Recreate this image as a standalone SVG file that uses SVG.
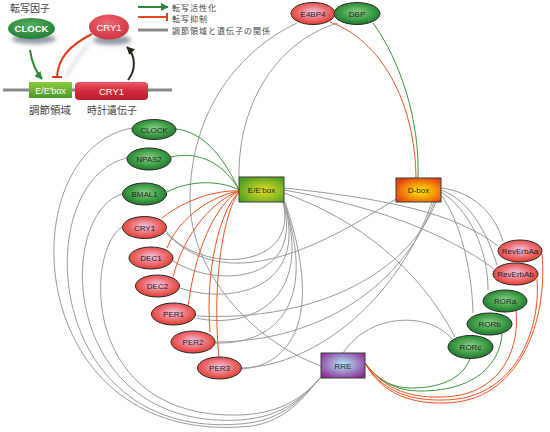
<svg xmlns="http://www.w3.org/2000/svg" width="550" height="432" viewBox="0 0 550 432">
<defs>
<radialGradient id="gGreen" cx="50%" cy="45%" r="60%">
<stop offset="0" stop-color="#8ed08a"/><stop offset="0.6" stop-color="#3a9a42"/><stop offset="1" stop-color="#1c6e2c"/>
</radialGradient>
<radialGradient id="gRed" cx="50%" cy="45%" r="60%">
<stop offset="0" stop-color="#f4c8e6"/><stop offset="0.55" stop-color="#ec6c70"/><stop offset="1" stop-color="#e0321e"/>
</radialGradient>
<radialGradient id="gE" cx="55%" cy="55%" r="65%">
<stop offset="0" stop-color="#e4e222"/><stop offset="1" stop-color="#4c9c22"/>
</radialGradient>
<radialGradient id="gD" cx="55%" cy="55%" r="65%">
<stop offset="0" stop-color="#fff000"/><stop offset="1" stop-color="#e63a12"/>
</radialGradient>
<radialGradient id="gR" cx="50%" cy="45%" r="65%">
<stop offset="0" stop-color="#b4ecf8"/><stop offset="1" stop-color="#8a2a92"/>
</radialGradient>
<radialGradient id="gLG" cx="45%" cy="35%" r="70%">
<stop offset="0" stop-color="#54b060"/><stop offset="1" stop-color="#1f7a32"/>
</radialGradient>
<radialGradient id="gLR" cx="45%" cy="35%" r="70%">
<stop offset="0" stop-color="#ee6a76"/><stop offset="1" stop-color="#cf2c3c"/>
</radialGradient>
<linearGradient id="gGene" x1="0" y1="0" x2="0" y2="1">
<stop offset="0" stop-color="#e85a66"/><stop offset="0.5" stop-color="#d42a3a"/><stop offset="1" stop-color="#b81e2e"/>
</linearGradient>
<linearGradient id="gBox" x1="0" y1="0" x2="0" y2="1">
<stop offset="0" stop-color="#8acc40"/><stop offset="1" stop-color="#4c9a24"/>
</linearGradient>
<filter id="blur" x="-30%" y="-60%" width="160%" height="220%"><feGaussianBlur stdDeviation="2"/></filter>
<marker id="ahG" viewBox="0 0 10 10" refX="9" refY="5" markerWidth="8" markerHeight="8" markerUnits="userSpaceOnUse" orient="auto"><path d="M0,0 L10,5 L0,10 z" fill="#2e8a36"/></marker>
<marker id="ahK" viewBox="0 0 10 10" refX="9" refY="5" markerWidth="8" markerHeight="8" markerUnits="userSpaceOnUse" orient="auto"><path d="M0,0 L10,5 L0,10 z" fill="#2a2418"/></marker>
</defs>
<style>
.act{fill:none;stroke:#3c963c;stroke-width:1}
.rep{fill:none;stroke:#f0521e;stroke-width:1}
.rel{fill:none;stroke:#9a9a9a;stroke-width:1}
.ng{fill:url(#gGreen);stroke:#2a2a2a;stroke-width:1}
.nr{fill:url(#gRed);stroke:#2a2a2a;stroke-width:1}
.lbl{font-family:"Liberation Sans",Arial,sans-serif;font-size:8px;fill:#222;text-anchor:middle}
.jp{font-family:"Noto Sans CJK JP","Noto Sans CJK SC",sans-serif;fill:#444}
.lg{font-size:8px;letter-spacing:1px}
.wt{font-family:"Liberation Sans",Arial,sans-serif;fill:#fff;text-anchor:middle}
</style>
<rect width="550" height="432" fill="#fff"/>

<g id="legend">
<text class="jp" x="10" y="12" font-size="10">転写因子</text>
<ellipse cx="34" cy="39" rx="22" ry="5" fill="#4a5566" opacity="0.6" filter="url(#blur)"/>
<ellipse cx="31.5" cy="28.5" rx="23.5" ry="10.5" fill="url(#gLG)"/>
<text class="wt" x="31.5" y="32" font-size="9.5" font-weight="bold">CLOCK</text>
<ellipse cx="112" cy="40" rx="19" ry="5" fill="#4a5566" opacity="0.6" filter="url(#blur)"/>
<ellipse cx="109" cy="27" rx="20" ry="12.5" fill="url(#gLR)"/>
<text class="wt" x="109" y="31" font-size="9.5">CRY1</text>
<path d="M66,78 C72,62 84,52 90,42" fill="none" stroke="#8aa0b8" stroke-width="2" opacity="0.5" filter="url(#blur)"/>
<line x1="3" y1="90" x2="172" y2="90" stroke="#888" stroke-width="3"/>
<rect x="29" y="82" width="43" height="16" fill="url(#gBox)"/>
<text class="wt" x="50.5" y="93.5" font-size="9">E/E'box</text>
<rect x="75" y="82" width="73" height="18" rx="4" fill="url(#gGene)"/>
<text class="wt" x="111.5" y="94.5" font-size="9.5">CRY1</text>
<path d="M30,50 C32,64 36,72 42,79" fill="none" stroke="#2e8a36" stroke-width="2" marker-end="url(#ahG)"/>
<path d="M92,34 C70,45 58,58 57,77" fill="none" stroke="#e03a1a" stroke-width="2"/>
<line x1="52" y1="77" x2="62" y2="77" stroke="#e03a1a" stroke-width="2"/>
<path d="M128,80 C136,70 136,56 127,47" fill="none" stroke="#2a2418" stroke-width="2" marker-end="url(#ahK)"/>
<text class="jp" x="50" y="114" font-size="10.5" text-anchor="middle">調節領域</text>
<text class="jp" x="112" y="114" font-size="10" text-anchor="middle">時計遺伝子</text>
<line x1="138" y1="7" x2="168" y2="7" stroke="#2e8a36" stroke-width="2" marker-end="url(#ahG)"/>
<line x1="138" y1="17" x2="167" y2="17" stroke="#e8421a" stroke-width="2"/>
<line x1="167" y1="13" x2="167" y2="21" stroke="#e8421a" stroke-width="2"/>
<line x1="138" y1="30" x2="168" y2="30" stroke="#888" stroke-width="3"/>
<text class="jp lg" x="172" y="11">転写活性化</text>
<text class="jp lg" x="172" y="21.5">転写抑制</text>
<text class="jp lg" x="172" y="34">調節領域と遺伝子の関係</text>
</g>

<g id="connectors">
<path class="rel" d="M297,23 C240,50 190,110 190,200 C190,270 250,340 321,366"/>
<path class="rel" d="M338,23 C280,40 238,100 239,177"/>
<path class="rel" d="M132,128 C10,150 20,440 240,427 C285,426 305,395 321,377"/>
<path class="rel" d="M127,158 C30,180 40,440 240,424 C285,421 305,395 321,377"/>
<path class="rel" d="M122,194 C55,215 60,430 240,420 C285,417 305,395 321,377"/>
<path class="rel" d="M122,227 C85,250 80,420 240,415 C285,413 305,395 321,377"/>
<path class="rel" d="M284,188 C380,198 455,212 498,246"/>
<path class="rel" d="M284,190 C370,205 445,232 494,269"/>
<path class="rel" d="M284,193 C360,220 420,270 455,337"/>
<path class="rel" d="M343,353 C370,312 430,312 452,339"/>
<path class="rel" d="M441,188 C475,192 495,215 503,241"/>
<path class="rel" d="M441,190 C470,200 488,235 497,265"/>
<path class="rel" d="M441,192 C470,210 488,250 488,290"/>
<path class="rel" d="M441,195 C460,220 472,270 473,313"/>
<path class="rel" d="M436,202 C410,270 320,322 197,316"/>
<path class="rel" d="M434,202 C405,285 320,342 215,342"/>
<path class="rel" d="M432,202 C400,295 320,365 242,368"/>
<path class="rel" d="M166,233 C230,300 330,240 396,199"/>
<path class="rel" d="M166,231 C200,275 300,270 283,202"/>
<path class="rel" d="M173,261 C220,290 305,280 283,202"/>
<path class="rel" d="M180,288 C230,305 310,290 284,202"/>
<path class="rel" d="M196,318 C250,330 315,300 284,202"/>
<path class="rel" d="M215,343 C270,345 320,310 284,202"/>
<path class="rel" d="M242,369 C290,365 325,320 285,202"/>
<path class="act" d="M176,129 C205,132 225,160 239,190"/>
<path class="act" d="M171,157 C200,150 225,165 239,190"/>
<path class="act" d="M167,192 C190,180 220,180 239,190"/>
<path class="act" d="M373,23 C400,60 420,120 418,178"/>
<path class="act" d="M502,334 C500,360 480,391 420,391 C395,391 378,380 365,363"/>
<path class="act" d="M470,358 C465,375 445,388 412,388 C390,388 376,378 365,363"/>
<path class="rep" d="M162,218 C185,200 215,190 239,191"/>
<path class="rep" d="M167,248 C180,215 215,195 239,191"/>
<path class="rep" d="M173,277 C185,230 215,200 239,191"/>
<path class="rep" d="M188,307 C195,250 215,205 239,191"/>
<path class="rep" d="M210,332 C205,270 220,210 239,192"/>
<path class="rep" d="M219,357 C212,290 222,215 239,192"/>
<path class="rep" d="M330,22 C380,40 415,100 416,178"/>
<path class="rep" d="M542,254 C548,320 520,402 445,403 C405,404 380,390 365,363"/>
<path class="rep" d="M537,279 C541,330 515,400 443,400 C405,401 380,388 365,363"/>
<path class="rep" d="M516,311 C520,350 500,397 440,397 C405,398 382,386 365,363"/>
</g>

<g id="n-E4BP4"><ellipse class="nr" cx="313" cy="13.5" rx="22" ry="11"/><text class="lbl" x="313" y="16.5">E4BP4</text></g>
<g id="n-DBP"><ellipse class="ng" cx="357" cy="13.5" rx="23" ry="11"/><text class="lbl" x="357" y="16.5">DBP</text></g>
<g id="n-CLOCK"><ellipse class="ng" cx="154" cy="129.5" rx="22" ry="10"/><text class="lbl" x="154" y="132.5">CLOCK</text></g>
<g id="n-NPAS2"><ellipse class="ng" cx="149" cy="159" rx="22" ry="11"/><text class="lbl" x="149" y="162">NPAS2</text></g>
<g id="n-BMAL1"><ellipse class="ng" cx="144.5" cy="194" rx="22" ry="11"/><text class="lbl" x="144.5" y="197">BMAL1</text></g>
<g id="n-CRY1"><ellipse class="nr" cx="144.5" cy="227.5" rx="22" ry="11"/><text class="lbl" x="144.5" y="230.5">CRY1</text></g>
<g id="n-DEC1"><ellipse class="nr" cx="151" cy="258" rx="22" ry="11"/><text class="lbl" x="151" y="261">DEC1</text></g>
<g id="n-DEC2"><ellipse class="nr" cx="157.5" cy="286" rx="22" ry="11"/><text class="lbl" x="157.5" y="289">DEC2</text></g>
<g id="n-PER1"><ellipse class="nr" cx="173.5" cy="314" rx="22" ry="11"/><text class="lbl" x="173.5" y="317">PER1</text></g>
<g id="n-PER2"><ellipse class="nr" cx="193" cy="342" rx="22" ry="11"/><text class="lbl" x="193" y="345">PER2</text></g>
<g id="n-PER3"><ellipse class="nr" cx="219.5" cy="368" rx="22" ry="11"/><text class="lbl" x="219.5" y="371">PER3</text></g>
<g id="n-Ebox"><rect x="239" y="177" width="45" height="25" fill="url(#gE)" stroke="#3a3a3a" stroke-width="1"/><text class="lbl" x="261.5" y="192.5">E/E'box</text></g>
<g id="n-Dbox"><rect x="396" y="178" width="45" height="24" fill="url(#gD)" stroke="#3a3a3a" stroke-width="1"/><text class="lbl" x="418.5" y="193" font-size="8.5">D-box</text></g>
<g id="n-RRE"><rect x="321" y="353" width="44" height="25" fill="url(#gR)" stroke="#3a3a3a" stroke-width="1"/><text class="lbl" x="343" y="368.5" font-size="8.5">RRE</text></g>
<g id="n-RevErbAa"><ellipse class="nr" cx="520" cy="251" rx="22" ry="11"/><text class="lbl" x="520" y="254">RevErbAa</text></g>
<g id="n-RevErbAb"><ellipse class="nr" cx="515.5" cy="274" rx="22.5" ry="11"/><text class="lbl" x="515.5" y="277">RevErbAb</text></g>
<g id="n-RORa"><ellipse class="ng" cx="505" cy="301" rx="22" ry="11"/><text class="lbl" x="505" y="304">RORa</text></g>
<g id="n-RORb"><ellipse class="ng" cx="489.5" cy="324" rx="22.5" ry="11"/><text class="lbl" x="489.5" y="327">RORb</text></g>
<g id="n-RORc"><ellipse class="ng" cx="470.5" cy="347" rx="22.5" ry="11.5"/><text class="lbl" x="470.5" y="350">RORc</text></g>
</svg>
